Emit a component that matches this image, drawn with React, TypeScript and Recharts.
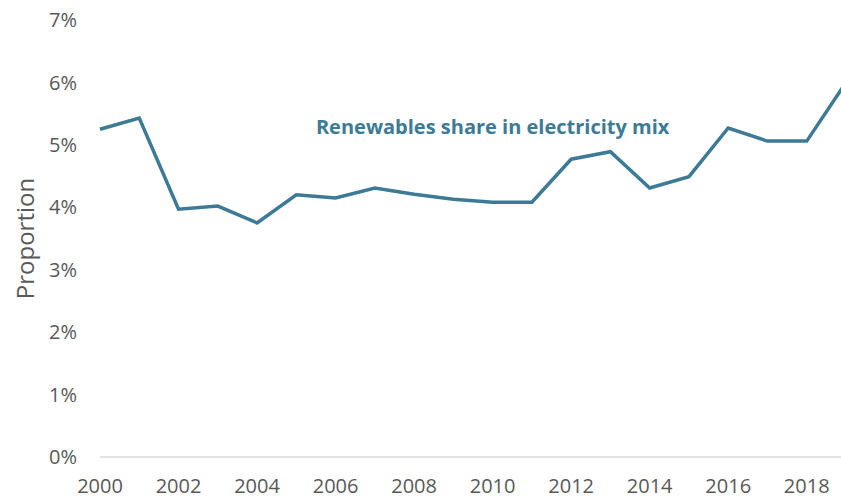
import React from "react";
import {
  LineChart,
  Line,
  XAxis,
  YAxis,
  ReferenceDot,
} from "recharts";

const years = [
  2000, 2001, 2002, 2003, 2004, 2005, 2006, 2007, 2008, 2009,
  2010, 2011, 2012, 2013, 2014, 2015, 2016, 2017, 2018, 2019,
];
const renewablesShare = [
  5.25, 5.43, 3.97, 4.02, 3.75, 4.2, 4.15, 4.31, 4.21, 4.13,
  4.08, 4.08, 4.77, 4.89, 4.31, 4.49, 5.27, 5.06, 5.06, 6.0,
];
const xTicks = [2000, 2002, 2004, 2006, 2008, 2010, 2012, 2014, 2016, 2018];
const yTicks = [0, 1, 2, 3, 4, 5, 6, 7];
const seriesLabel = "Renewables share in electricity mix";
const yAxisTitle = "Proportion";

const data = years.map((year, i) => ({ year, share: renewablesShare[i] }));

const LINE_COLOR = "#3D7A96";
const TEXT_COLOR = "#595959";
const FONT = "'Open Sans', sans-serif";

export default function App() {
  return (
    <div
      style={{
        position: "fixed",
        left: 0,
        top: 0,
        width: 841,
        height: 502,
        overflow: "hidden",
        background: "#fff",
      }}
    >
      <LineChart
        width={860}
        height={502}
        data={data}
        margin={{ top: 20, right: 14, bottom: 0, left: 0 }}
      >
        <XAxis
          dataKey="year"
          type="number"
          domain={[2000, 2019]}
          ticks={xTicks}
          interval={0}
          allowDecimals={false}
          height={45}
          tickLine={false}
          axisLine={{ stroke: "#d9d9d9", strokeWidth: 1.5 }}
          tick={{ fill: TEXT_COLOR, fontSize: 20, fontFamily: FONT }}
          tickMargin={22}
          tickSize={0}
        />
        <YAxis
          type="number"
          domain={[0, 7]}
          ticks={yTicks}
          interval={0}
          width={100}
          axisLine={false}
          tickLine={false}
          tickSize={0}
          tickMargin={23}
          tickFormatter={(v: number) => `${v}%`}
          tick={{ fill: TEXT_COLOR, fontSize: 20, fontFamily: FONT }}
          label={{
            value: yAxisTitle,
            angle: -90,
            position: "insideLeft",
            offset: 25,
            style: {
              textAnchor: "middle",
              fill: TEXT_COLOR,
              fontSize: 24,
              fontFamily: FONT,
            },
          }}
        />
        <Line
          type="linear"
          dataKey="share"
          stroke={LINE_COLOR}
          strokeWidth={3.5}
          dot={false}
          activeDot={false}
          isAnimationActive={false}
        />
        <ReferenceDot
          x={2010}
          y={5.29}
          r={0}
          fill="none"
          stroke="none"
          label={{
            value: seriesLabel,
            position: "center",
            style: {
              fill: LINE_COLOR,
              fontSize: 20,
              fontWeight: 700,
              fontFamily: FONT,
            },
          }}
        />
      </LineChart>
    </div>
  );
}
